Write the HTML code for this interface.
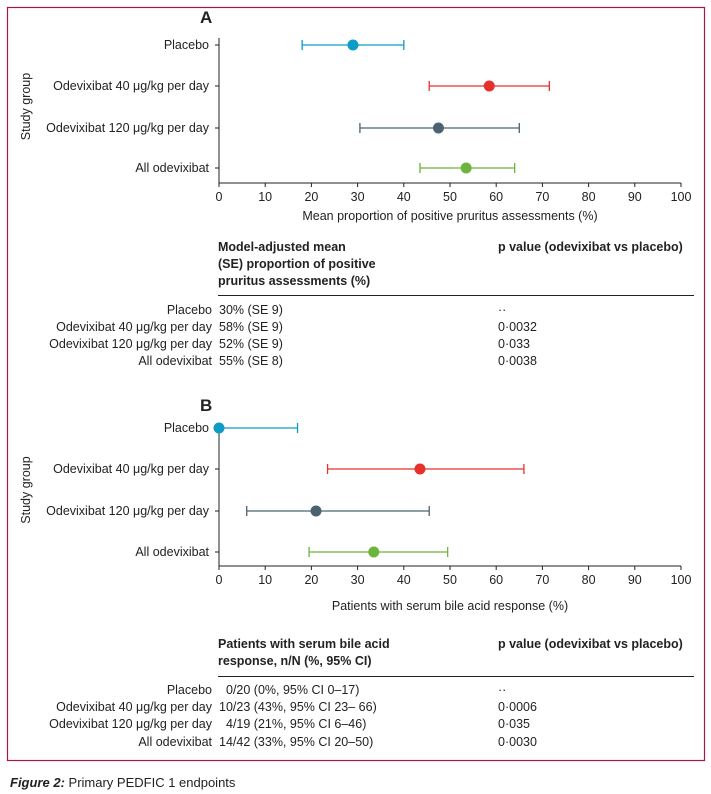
<!DOCTYPE html>
<html><head><meta charset="utf-8"><style>
html,body{margin:0;padding:0;background:#fff;}
svg{display:block;font-family:"Liberation Sans",sans-serif;}
</style></head><body>
<svg id="fig" width="711" height="794" viewBox="0 0 711 794" xmlns="http://www.w3.org/2000/svg">
<rect x="7.5" y="7.5" width="697" height="753" fill="none" stroke="#a3174a" stroke-width="1.2"/>
<text x="10" y="787" font-size="13" fill="#222"><tspan font-weight="bold" font-style="italic">Figure 2:</tspan> Primary PEDFIC 1 endpoints</text>

<g id="panelA"></g>
<g id="panelB"></g>

<g font-size="12.5" fill="#222">
<text x="218" y="251" font-weight="bold"><tspan x="218">Model-adjusted mean</tspan><tspan x="218" dy="17">(SE) proportion of positive</tspan><tspan x="218" dy="17">pruritus assessments (%)</tspan></text>
<text x="498" y="251" font-weight="bold">p value (odevixibat vs placebo)</text>
<line x1="218" y1="295.5" x2="694" y2="295.5" stroke="#222" stroke-width="1"/>
<g text-anchor="end">
<text x="212" y="314">Placebo</text>
<text x="212" y="331">Odevixibat 40 μg/kg per day</text>
<text x="212" y="348">Odevixibat 120 μg/kg per day</text>
<text x="212" y="365">All odevixibat</text>
</g>
<text x="219" y="314">30% (SE 9)</text>
<text x="219" y="331">58% (SE 9)</text>
<text x="219" y="348">52% (SE 9)</text>
<text x="219" y="365">55% (SE 8)</text>
<text x="498" y="314">··</text>
<text x="498" y="331">0·0032</text>
<text x="498" y="348">0·033</text>
<text x="498" y="365">0·0038</text>
</g>

<g font-size="12.5" fill="#222">
<text x="218" y="648" font-weight="bold"><tspan x="218">Patients with serum bile acid</tspan><tspan x="218" dy="17">response, n/N (%, 95% CI)</tspan></text>
<text x="498" y="648" font-weight="bold">p value (odevixibat vs placebo)</text>
<line x1="218" y1="676.5" x2="694" y2="676.5" stroke="#222" stroke-width="1"/>
<g text-anchor="end">
<text x="212" y="694">Placebo</text>
<text x="212" y="711">Odevixibat 40 μg/kg per day</text>
<text x="212" y="728">Odevixibat 120 μg/kg per day</text>
<text x="212" y="746">All odevixibat</text>
</g>
<text x="226" y="694">0/20 (0%, 95% CI 0–17)</text>
<text x="219" y="711">10/23 (43%, 95% CI 23– 66)</text>
<text x="226" y="728">4/19 (21%, 95% CI 6–46)</text>
<text x="219" y="746">14/42 (33%, 95% CI 20–50)</text>
<text x="498" y="694">··</text>
<text x="498" y="711">0·0006</text>
<text x="498" y="728">0·035</text>
<text x="498" y="746">0·0030</text>
</g>
</svg>
<script>
const groups = ["Placebo","Odevixibat 40 μg/kg per day","Odevixibat 120 μg/kg per day","All odevixibat"];
const colors = ["#0d9cc6","#e8302a","#4b6370","#6db43d"];
const xTicks = [0,10,20,30,40,50,60,70,80,90,100];
const aMean = [29,58.5,47.5,53.5];
const aLow = [18,45.5,30.5,43.5];
const aHigh = [40,71.5,65,64];
const bMean = [0,43.5,21,33.5];
const bLow = [0,23.5,6,19.5];
const bHigh = [17,66,45.5,49.5];

const NS="http://www.w3.org/2000/svg";
function mk(parent,tag,attrs,text){const e=document.createElementNS(NS,tag);for(const k in attrs)e.setAttribute(k,attrs[k]);if(text!==undefined)e.textContent=text;parent.appendChild(e);return e;}
const xScale=v=>219+v*4.62;

function drawPanel(g,letter,letterY,rowYs,axisTop,axisY,xlabel,xlabelY,mean,low,high){
  const t=mk(g,'text',{x:200,y:letterY,'font-size':17,'font-weight':'bold',fill:'#222'},letter);
  
  
  const ya=mk(g,'line',{x1:219,y1:axisTop,x2:219,y2:axisY,stroke:'#222','stroke-width':1});
  
  
  const xa=mk(g,'line',{x1:219,y1:axisY,x2:681,y2:axisY,stroke:'#222','stroke-width':1});
  
  
  xTicks.forEach(v=>{
    const tk=mk(g,'line',{x1:xScale(v),y1:axisY,x2:xScale(v),y2:axisY+4,stroke:'#222'});
    
    
    const tl=mk(g,'text',{x:xScale(v),y:axisY+18,'text-anchor':'middle','font-size':12.5,fill:'#222'},String(v));
    
    
  });
  const xl=mk(g,'text',{x:450,y:xlabelY,'text-anchor':'middle','font-size':12.5,fill:'#222'},xlabel);
  
  
  const midY=(rowYs[0]+rowYs[3])/2;
  const yl=mk(g,'text',{x:0,y:0,'text-anchor':'middle','font-size':12.5,fill:'#222',transform:`translate(30,${midY}) rotate(-90)`},'Study group');
  
  
  groups.forEach((name,i)=>{
    const y=rowYs[i];
    const yt=mk(g,'line',{x1:215,y1:y,x2:219,y2:y,stroke:'#222'});
    
    
    const lab=mk(g,'text',{x:209,y:y+4,'text-anchor':'end','font-size':12.5,fill:'#222'},name);
    
    
    const c=colors[i];
    const ci=mk(g,'line',{x1:xScale(low[i]),y1:y,x2:xScale(high[i]),y2:y,stroke:c,'stroke-width':1.3});
    
    
    [low[i],high[i]].forEach(v=>{
      const cap=mk(g,'line',{x1:xScale(v),y1:y-5,x2:xScale(v),y2:y+5,stroke:c,'stroke-width':1.3});
      
      
    });
    const p=mk(g,'circle',{cx:xScale(mean[i]),cy:y,r:5.5,fill:c});
    
    
  });
}
drawPanel(document.getElementById('panelA'),'A',23,[45,86,128,168],38,183,'Mean proportion of positive pruritus assessments (%)',220,aMean,aLow,aHigh);
drawPanel(document.getElementById('panelB'),'B',411,[428,469,511,552],424,566,'Patients with serum bile acid response (%)',610,bMean,bLow,bHigh);
</script>
</body></html>
